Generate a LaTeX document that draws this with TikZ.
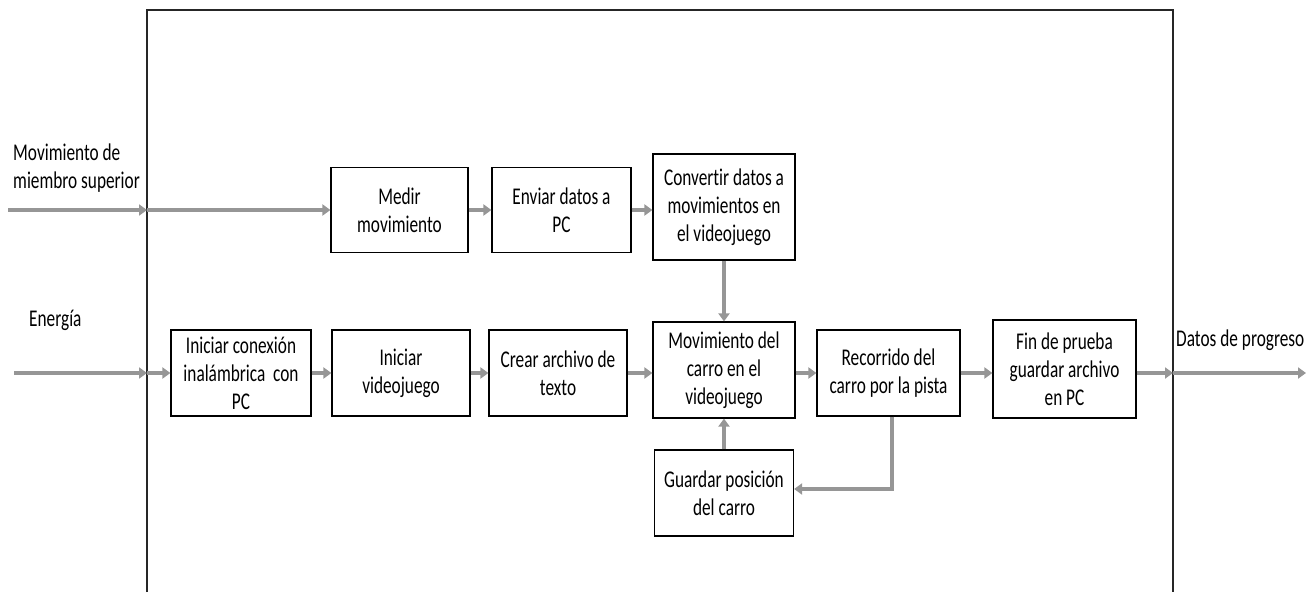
\documentclass[tikz,border=0pt]{standalone}
\usepackage{fontspec}
\usetikzlibrary{arrows.meta}
\newfontfamily\diagfont[FakeStretch=0.72, Ligatures=CommonOff]{Carlito}
\definecolor{flowgray}{RGB}{150,150,150}
\begin{document}
\begin{tikzpicture}[x=1pt,y=-1pt,
  font=\diagfont\fontsize{24}{28}\selectfont,
  block/.style={draw=black, line width=1.2pt, align=center, inner sep=0pt,
    minimum width=#1, text=black},
  block/.default=140pt,
  flow/.style={draw=flowgray, line width=3.5pt,
    -{Triangle[length=8pt,width=11pt]}},
  label/.style={align=left, inner sep=0pt, anchor=west}]
\useasboundingbox (0,0) rectangle (1312,592);

% system boundary, open at the bottom
\draw[black!85, line width=1.5pt] (147,592) -- (147,10) -- (1173,10) -- (1173,592);

% upper chain
\node[block=137pt, minimum height=85pt] (medir) at (399.5,210) {Medir\\movimiento};
\node[block=139pt, minimum height=85pt] (enviar) at (561.5,210) {Enviar datos a\\PC};
\node[block=142pt, minimum height=106pt] (convertir) at (724,207) {Convertir datos a\\movimientos en\\el videojuego};

% lower chain
\node[block=140pt, minimum height=86pt] (conexion) at (241,373) {Iniciar conexión\\inalámbrica\ \ con\\PC};
\node[block=138pt, minimum height=86pt] (juego) at (401,373) {Iniciar\\videojuego};
\node[block=138pt, minimum height=86pt] (archivo) at (558,373) {Crear archivo de\\texto};
\node[block=142pt, minimum height=96pt] (carro) at (724,370) {Movimiento del\\carro en el\\videojuego};
\node[block=143pt, minimum height=86pt] (recorrido) at (888.5,373) {Recorrido del\\carro por la pista};
\node[block=143pt, minimum height=98pt] (fin) at (1064.5,369) {Fin de prueba\\guardar archivo\\en PC};
\node[block=139pt, minimum height=86pt] (posicion) at (724,493) {Guardar posición\\del carro};

% external labels
\node[label] (lmov) at (13,168) {Movimiento de\\miembro superior};
\node[label] (lener) at (29,320) {Energía};
\node[label] (ldatos) at (1176,340) {Datos de progreso};

% boundary crossing points
\coordinate (srcA) at (8,210);
\coordinate (inA) at (147,210);
\coordinate (srcB) at (14,373);
\coordinate (inB) at (147,373);
\coordinate (outC) at (1173,373);
\coordinate (endC) at (1306,373);
\coordinate (bend) at (892,489);

% connectors
\draw[flow] (srcA) -- (inA);
\draw[flow] (inA) -- (medir.west);
\draw[flow] (medir) -- (enviar);
\draw[flow] (enviar.east) -- (enviar.east -| convertir.west);
\draw[flow] (convertir) -- (carro);

\draw[flow] (srcB) -- (inB);
\draw[flow] (inB) -- (conexion.west);
\draw[flow] (conexion) -- (juego);
\draw[flow] (juego) -- (archivo);
\draw[flow] (archivo.east) -- (archivo.east -| carro.west);
\draw[flow] (carro.east |- recorrido.west) -- (recorrido.west);
\draw[flow] (recorrido.east) -- (recorrido.east -| fin.west);
\draw[flow] (fin.east |- outC) -- (outC);
\draw[flow] (outC) -- (endC);

\draw[flow] (recorrido.south -| bend) -- (bend) -- (bend -| posicion.east);
\draw[flow] (posicion) -- (carro);
\end{tikzpicture}
\end{document}
